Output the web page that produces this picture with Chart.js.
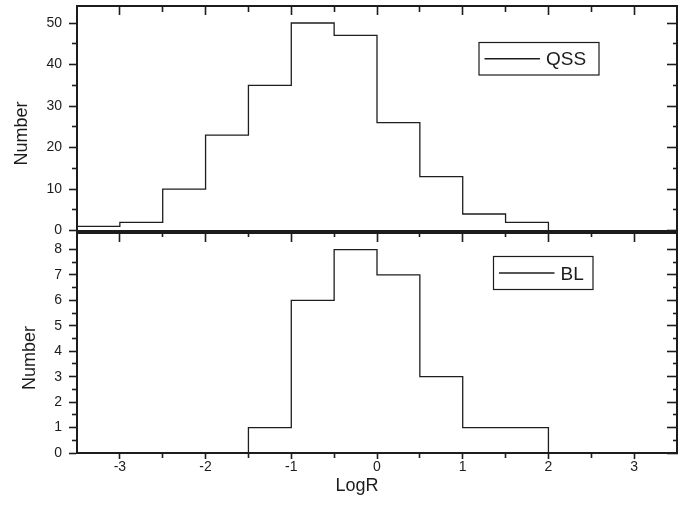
<!DOCTYPE html>
<html>
<head>
<meta charset="utf-8">
<script src="https://cdn.jsdelivr.net/npm/chart.js@4/dist/chart.umd.min.js"></script>
<style>
  html, body { margin: 0; padding: 0; background: #ffffff; }
  #wrap { position: relative; width: 690px; height: 508px; }
  #wrap canvas { position: absolute; left: 0; top: 0; }
</style>
</head>
<body>
<div id="wrap">
  <canvas id="qssChart" width="690" height="508"></canvas>
  <canvas id="blChart" width="690" height="508"></canvas>
</div>
<script>
// LogR histograms, bins of width 0.5: left edges (plus the closing edge) and counts
const binEdges  = [-3.5, -3, -2.5, -2, -1.5, -1, -0.5, 0, 0.5, 1, 1.5, 2];
const qssCounts = [1, 2, 10, 23, 35, 50, 47, 26, 13, 4, 2];
const blCounts  = [0, 0, 0, 0, 1, 6, 8, 7, 3, 1, 1];

// Axis ticks (all tick marks) and the ones that carry a label
const xTicks      = [-3, -2.5, -2, -1.5, -1, -0.5, 0, 0.5, 1, 1.5, 2, 2.5, 3];
const xLabels     = [-3, -2, -1, 0, 1, 2, 3];
const qssYTicks   = [0, 5, 10, 15, 20, 25, 30, 35, 40, 45, 50];
const qssYLabels  = [0, 10, 20, 30, 40, 50];
const blYTicks    = [0, 0.5, 1, 1.5, 2, 2.5, 3, 3.5, 4, 4.5, 5, 5.5, 6, 6.5, 7, 7.5, 8];
const blYLabels   = [0, 1, 2, 3, 4, 5, 6, 7, 8];

const INK = '#1c1c1c';
const FONT = '"Liberation Sans", Arial, Helvetica, sans-serif';

// Step outline of a histogram: rise at the first filled bin, drop after the last one
function outline(edges, counts) {
  const first = counts.findIndex(c => c > 0);
  let last = counts.length - 1;
  while (last > first && counts[last] === 0) last--;
  const pts = [{ x: edges[first], y: 0 }];
  for (let i = first; i <= last; i++) pts.push({ x: edges[i], y: counts[i] });
  pts.push({ x: edges[last + 1], y: 0 });
  return pts;
}

// One framed axis: major ticks of length `major`, minor ticks of length `minor`
// (shortened with a dash pattern so they hug the frame). Negative length = inward.
function axis(position, cfg) {
  const isMajor = v => cfg.labels.some(l => Math.abs(l - v) < 1e-9);
  const L = Math.abs(cfg.major || 0);
  const m = cfg.minor || 0;
  return {
    type: 'linear',
    position,
    min: cfg.min,
    max: cfg.max,
    afterBuildTicks: s => { s.ticks = cfg.values.map(v => ({ value: v })); },
    afterFit: s => {
      if (s.isHorizontal()) s.height = cfg.size; else s.width = cfg.size;
      s.paddingLeft = s.paddingRight = s.paddingTop = s.paddingBottom = 0;
    },
    border: { display: true, color: INK, width: 2 },
    grid: {
      display: true,
      drawOnChartArea: false,
      drawTicks: !!cfg.major,
      tickLength: cfg.major || 0,
      tickColor: INK,
      tickWidth: 1.6,
      tickBorderDash: c => (c.tick && !isMajor(c.tick.value)) ? [m, 100] : [],
      tickBorderDashOffset: c => (c.tick && !isMajor(c.tick.value) && cfg.offFirst) ? (2 * m + 100 - L) : 0
    },
    ticks: {
      display: !!cfg.showLabels,
      autoSkip: false,
      maxRotation: 0,
      padding: cfg.labelPad || 0,
      color: INK,
      font: { family: FONT, size: 14 },
      callback: v => isMajor(v) ? String(v) : ''
    },
    title: cfg.title ? {
      display: true,
      text: cfg.title,
      color: INK,
      font: { family: FONT, size: 18 },
      padding: cfg.titlePad
    } : { display: false }
  };
}

// Framed legend box drawn inside the plot area
const boxedLegend = {
  id: 'boxedLegend',
  afterDraw(chart, args, o) {
    const ds = chart.data.datasets[0];
    const ctx = chart.ctx;
    ctx.save();
    ctx.lineWidth = 1.2;
    ctx.strokeStyle = INK;
    ctx.strokeRect(o.left, o.top, o.width, o.height);
    const cy = o.top + o.height / 2;
    ctx.beginPath();
    ctx.moveTo(o.left + 5.5, cy);
    ctx.lineTo(o.left + 61, cy);
    ctx.lineWidth = ds.borderWidth;
    ctx.strokeStyle = ds.borderColor;
    ctx.stroke();
    ctx.font = '19px ' + FONT;
    ctx.fillStyle = INK;
    ctx.textBaseline = 'alphabetic';
    ctx.textAlign = 'left';
    ctx.fillText(ds.label, o.left + 67, cy + 6.5);
    ctx.restore();
  }
};

function histogram(canvasId, label, counts, opts) {
  return new Chart(document.getElementById(canvasId), {
    type: 'line',
    data: {
      datasets: [{
        label,
        data: outline(binEdges, counts),
        // horizontal run across each bin, then the vertical step at its right edge
        stepped: 'before',
        borderColor: '#1e1e1e',
        borderWidth: 1.3,
        pointRadius: 0,
        fill: false,
        xAxisID: 'x',
        yAxisID: 'y'
      }]
    },
    options: {
      responsive: false,
      devicePixelRatio: 1,
      animation: false,
      layout: { padding: opts.padding },
      plugins: {
        legend: { display: false },
        tooltip: { enabled: false },
        boxedLegend: opts.legend
      },
      scales: opts.scales
    },
    plugins: [boxedLegend]
  });
}

// Upper panel: QSS
histogram('qssChart', 'QSS', qssCounts, {
  padding: { left: 0, top: 6, right: 13, bottom: 277 },
  legend: { left: 479, top: 42.5, width: 120, height: 32.5 },
  scales: {
    x: axis('bottom', { min: -3.5, max: 3.5, values: xTicks, labels: xLabels, major: 0, size: 0 }),
    xTop: axis('top', { min: -3.5, max: 3.5, values: xTicks, labels: xLabels, major: -9, minor: 6, offFirst: true, size: 0 }),
    y: axis('left', { min: -0.1, max: 54.1, values: qssYTicks, labels: qssYLabels, major: 8, minor: 5, offFirst: true,
                      size: 77, showLabels: true, labelPad: 7, title: 'Number      ', titlePad: { top: 11, bottom: 0 } }),
    yRight: axis('right', { min: -0.1, max: 54.1, values: qssYTicks, labels: qssYLabels, major: -10, minor: 5, size: 0 })
  }
});

// Lower panel: BL
histogram('blChart', 'BL', blCounts, {
  padding: { left: 0, top: 233, right: 13, bottom: 0 },
  legend: { left: 493.5, top: 256.5, width: 99.5, height: 33 },
  scales: {
    x: axis('bottom', { min: -3.5, max: 3.5, values: xTicks, labels: xLabels, major: 6, minor: 4,
                        size: 55, showLabels: true, labelPad: 0, title: 'LogR        ', titlePad: { top: 0, bottom: 11 } }),
    xTop: axis('top', { min: -3.5, max: 3.5, values: xTicks, labels: xLabels, major: -9, minor: 4, offFirst: true, size: 0 }),
    y: axis('left', { min: 0, max: 8.65, values: blYTicks, labels: blYLabels, major: 8, minor: 5, offFirst: true,
                      size: 77, showLabels: true, labelPad: 7, title: 'Number      ', titlePad: { top: 19, bottom: 0 } }),
    yRight: axis('right', { min: 0, max: 8.65, values: blYTicks, labels: blYLabels, major: -10, minor: 5, size: 0 })
  }
});
</script>
</body>
</html>
